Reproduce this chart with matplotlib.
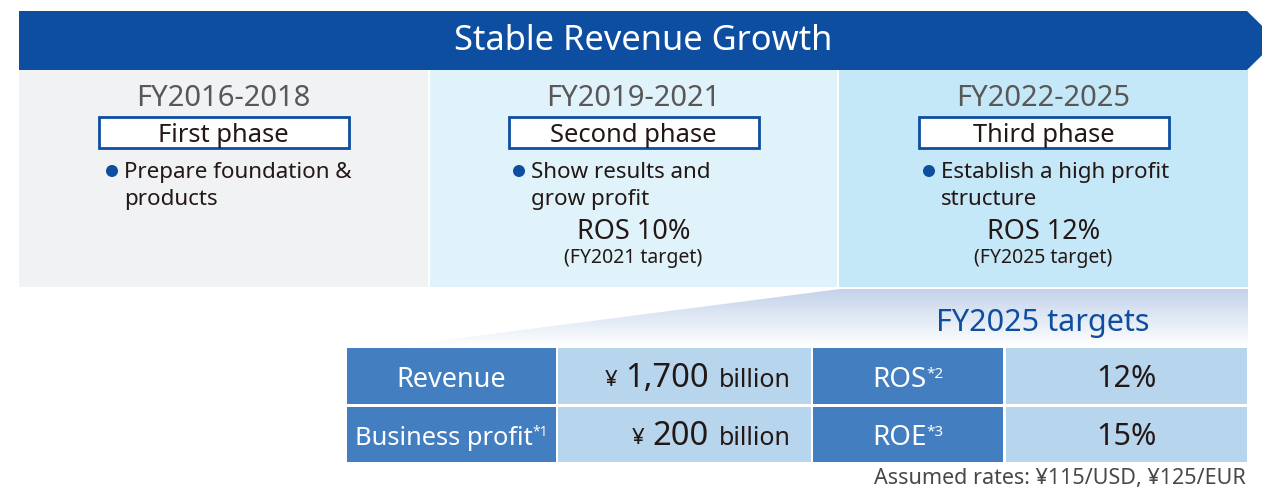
import matplotlib
matplotlib.use("Agg")
import matplotlib.pyplot as plt
import numpy as np
from matplotlib.patches import Polygon, Rectangle, Circle

plt.rcParams['font.family'] = ['Noto Sans', 'DejaVu Sans']

# ---------------- data ----------------
title = "Stable Revenue Growth"
periods = ["FY2016-2018", "FY2019-2021", "FY2022-2025"]
phase_names = ["First phase", "Second phase", "Third phase"]
phase_bullets = [["Prepare foundation &", "products"],
                 ["Show results and", "grow profit"],
                 ["Establish a high profit", "structure"]]
ros_targets = [None, "ROS 10%", "ROS 12%"]
ros_notes = [None, "(FY2021 target)", "(FY2025 target)"]
targets_title = "FY2025 targets"
row_labels_left = ["Revenue", "Business profit"]
row_notes_left = ["", "*1"]
row_values_left = ["1,700", "200"]
row_labels_right = ["ROS", "ROE"]
row_notes_right = ["*2", "*3"]
row_values_right = ["12%", "15%"]
footnote = "Assumed rates: \u00a5115/USD, \u00a5125/EUR"

# ---------------- style ----------------
DARK_BLUE = "#0E4EA0"
PANEL_COLORS = ["#F1F2F4", "#E0F2FA", "#C5E8F8"]
CELL_DARK = "#437EC0"
CELL_LIGHT = "#B7D5ED"
TXT = "#231815"
GRAY = "#595757"

fig = plt.figure(figsize=(12.62, 4.88), dpi=100)
ax = fig.add_axes([0, 0, 1, 1])
ax.set_xlim(0, 1262)
ax.set_ylim(488, 0)
ax.axis('off')
renderer = fig.canvas.get_renderer()

def runs_text(x, y, runs, ha='center'):
    """runs: list of (text, size, color, dy, gap_after, weight)"""
    objs = []
    widths = []
    for s, size, color, dy, gap, wt in runs:
        t = ax.text(0, y + dy, s, fontsize=size, color=color, ha='left', va='baseline',
                    fontweight=wt)
        objs.append(t)
        widths.append(t.get_window_extent(renderer).width)
    total = sum(widths) + sum(r[4] for r in runs[:-1])
    if ha == 'center':
        cx = x - total / 2
    elif ha == 'right':
        cx = x - total
    else:
        cx = x
    for t, w, r in zip(objs, widths, runs):
        t.set_x(cx)
        cx += w + r[4]

# banner
ax.add_patch(Polygon([(19, 11), (1247, 11), (1277, 40.5), (1247, 70), (19, 70)],
                     closed=True, facecolor=DARK_BLUE, edgecolor='none'))
ax.text(643, 50, title, fontsize=24.8, color='white', ha='center', va='baseline')

# panels
panel_x = [(19, 428), (430, 837), (839, 1248)]
bullet_x = [112, 519, 929]
for i, (x0, x1) in enumerate(panel_x):
    ax.add_patch(Rectangle((x0, 70), x1 - x0, 217, facecolor=PANEL_COLORS[i], edgecolor='none'))
    cx = (x0 + x1) / 2
    ax.text(cx, 106, periods[i], fontsize=21, color=GRAY, ha='center', va='baseline')
    ax.add_patch(Rectangle((cx - 125, 117), 250, 31, facecolor='white',
                           edgecolor=DARK_BLUE, linewidth=2))
    ax.text(cx, 142, phase_names[i], fontsize=18.4, color=TXT, ha='center', va='baseline')
    ax.add_patch(Circle((bullet_x[i], 171), 6, facecolor=DARK_BLUE, edgecolor='none'))
    for j, line in enumerate(phase_bullets[i]):
        ax.text(bullet_x[i] + 12, 178 + 27 * j, line, fontsize=16.1, color=TXT,
                ha='left', va='baseline')
    if ros_targets[i]:
        ax.text(cx, 239, ros_targets[i], fontsize=19.5, color=TXT, ha='center',
                va='baseline', fontweight='medium')
        ax.text(cx, 263, ros_notes[i], fontsize=14, color=TXT, ha='center',
                va='baseline', fontweight='medium')

# gradient wedge
wedge = Polygon([(840, 289), (1248, 289), (1248, 347), (390, 347)], closed=True,
                facecolor='none', edgecolor='none')
ax.add_patch(wedge)
top = np.array([0xC3, 0xD3, 0xEA]) / 255.0
grad = np.linspace(0, 1, 64)[:, None]
img = top[None, None, :] * (1 - grad[..., None]) + np.ones(3)[None, None, :] * grad[..., None]
img = np.repeat(img, 4, axis=1)
im = ax.imshow(img, extent=(390, 1248, 347, 289), aspect='auto', zorder=1, interpolation='bilinear')
im.set_clip_path(wedge)
ax.set_xlim(0, 1262)
ax.set_ylim(488, 0)
ax.text(1043, 331, targets_title, fontsize=22, color=DARK_BLUE, ha='center', va='baseline', zorder=3)

# table
cols = [(347, 556), (558, 811), (813, 1003), (1006, 1247)]
rows = [(348, 404), (407, 462)]
for r, (y0, y1) in enumerate(rows):
    for c, (x0, x1) in enumerate(cols):
        ax.add_patch(Rectangle((x0, y0), x1 - x0, y1 - y0,
                               facecolor=CELL_DARK if c in (0, 2) else CELL_LIGHT,
                               edgecolor='none', zorder=2))
    base = y1 - 17
    # left label
    runs_text((cols[0][0] + cols[0][1]) / 2, base,
              [(row_labels_left[r], 19.5 if r == 0 else 18.3, 'white', 0, 0, 'normal'),
               (row_notes_left[r], 10, 'white', -9, 0, 'normal')], ha='center')
    # left value
    runs_text(791, base,
              [("\u00a5", 16, TXT, -1, 8, 'medium'),
               (row_values_left[r], 23.5, TXT, 0, 10, 'medium'),
               ("billion", 18, TXT, 0, 0, 'medium')], ha='right')
    # right label
    runs_text((cols[2][0] + cols[2][1]) / 2, base,
              [(row_labels_right[r], 20, 'white', 0, 0, 'normal'),
               (row_notes_right[r], 11, 'white', -9, 0, 'normal')], ha='center')
    ax.text((cols[3][0] + cols[3][1]) / 2, base, row_values_right[r], fontsize=22,
            color=TXT, ha='center', va='baseline', zorder=3, fontweight='medium')

for t in ax.texts:
    t.set_zorder(3)

ax.text(1246, 484, footnote, fontsize=15.5, color='#4A4746', ha='right', va='baseline', zorder=3)

fig.savefig("out.png", dpi=100)
